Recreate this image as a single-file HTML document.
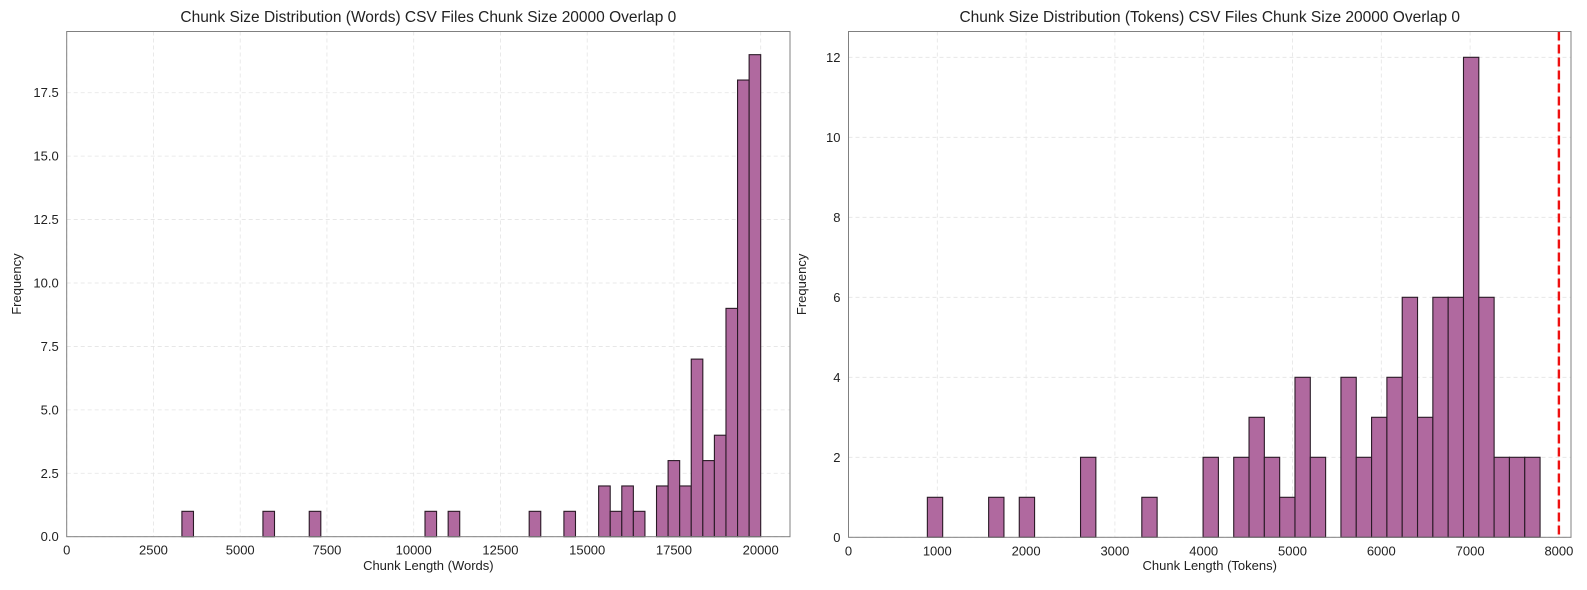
<!DOCTYPE html>
<html><head><meta charset="utf-8"><style>
body{margin:0;background:#fff;}
svg{display:block;font-family:"Liberation Sans",sans-serif;}
</style></head><body>
<svg id="chart" width="1587" height="590" viewBox="0 0 1587 590"></svg>
<script>
// Left chart data (words): 50 bins
const wordsBinStart = 3320;
const wordsBinWidth = 333.6;
const wordsCounts = [1,0,0,0,0,0,0,1,0,0,0,1,0,0,0,0,0,0,0,0,0,1,0,1,0,0,0,0,0,0,1,0,0,1,0,0,2,1,2,1,0,2,3,2,7,3,4,9,18,19];
const wordsXTicks = [0,2500,5000,7500,10000,12500,15000,17500,20000];
const wordsYTicks = [0,2.5,5,7.5,10,12.5,15,17.5];
const wordsYLabels = ["0.0","2.5","5.0","7.5","10.0","12.5","15.0","17.5"];
// Right chart data (tokens): 40 bins
const tokBinStart = 888;
const tokBinWidth = 172.5;
const tokCounts = [1,0,0,0,1,0,1,0,0,0,2,0,0,0,1,0,0,0,2,0,2,3,2,1,4,2,0,4,2,3,4,6,3,6,6,12,6,2,2,2];
const tokXTicks = [0,1000,2000,3000,4000,5000,6000,7000,8000];
const tokYTicks = [0,2,4,6,8,10,12];
const tokLimit = 8000;

const svg = document.getElementById('chart');
const NS = 'http://www.w3.org/2000/svg';
function mk(tag, attrs, parent){const e=document.createElementNS(NS,tag);for(const k in attrs)e.setAttribute(k,attrs[k]);(parent||svg).appendChild(e);return e;}

function panel(cfg){
  const g = mk('g',{});
  
  
  const xs = v => cfg.x0 + v*cfg.kx;
  const ys = v => cfg.y0 - v*cfg.ky;
  cfg.xTicks.forEach(t=>{
    const l = mk('line',{x1:xs(t),x2:xs(t),y1:cfg.top,y2:cfg.y0,stroke:'#e4e4e4','stroke-dasharray':'4,3','stroke-width':0.8},g);
    
    
  });
  cfg.yTicks.forEach(t=>{
    const l = mk('line',{x1:cfg.x0,x2:cfg.right,y1:ys(t),y2:ys(t),stroke:'#e4e4e4','stroke-dasharray':'4,3','stroke-width':0.8},g);
    
    
  });
  cfg.counts.forEach((c,i)=>{
    if(!c) return;
    const a = cfg.start + i*cfg.w;
    const r = mk('rect',{x:xs(a),y:ys(c),width:cfg.w*cfg.kx,height:c*cfg.ky,fill:'#b0699f','stroke':'#2a1a26','stroke-width':1.1},g);
    
    
  });
  if(cfg.limit!==undefined){
    const l = mk('line',{x1:xs(cfg.limit),x2:xs(cfg.limit),y1:cfg.top,y2:cfg.y0,stroke:'#ee1111','stroke-width':2.4,'stroke-dasharray':'9,4'},g);
    
    
  }
  const f = mk('rect',{x:cfg.x0,y:cfg.top,width:cfg.right-cfg.x0,height:cfg.y0-cfg.top,fill:'none',stroke:'#808080','stroke-width':1},g);
  
  
  cfg.xTicks.forEach(t=>{
    const tx = mk('text',{x:xs(t),y:cfg.y0+18,'text-anchor':'middle','font-size':13,fill:'#222'},g);
    tx.textContent = t;
    
    
  });
  cfg.yTicks.forEach((t,i)=>{
    const tx = mk('text',{x:cfg.x0-8,y:ys(t)+4.5,'text-anchor':'end','font-size':13,fill:'#222'},g);
    tx.textContent = cfg.yLabels ? cfg.yLabels[i] : t;
    
    
  });
  const xt = mk('text',{x:(cfg.x0+cfg.right)/2,y:570,'text-anchor':'middle','font-size':13,fill:'#222'},g);
  xt.textContent = cfg.xTitle;
  
  
  const yt = mk('text',{x:0,y:0,'text-anchor':'middle','font-size':13,fill:'#222',transform:`translate(${cfg.yTitleX},${(cfg.top+cfg.y0)/2}) rotate(-90)`},g);
  yt.textContent = 'Frequency';
  
  
  const tt = mk('text',{x:(cfg.x0+cfg.right)/2,y:22,'text-anchor':'middle','font-size':15.5,fill:'#222'},g);
  tt.textContent = cfg.title;
  
  
}

panel({name:'words-histogram',x0:66.7,right:790,top:31.5,y0:536.7,kx:0.0347,ky:25.37,
  xTicks:wordsXTicks,yTicks:wordsYTicks,yLabels:wordsYLabels,counts:wordsCounts,start:wordsBinStart,w:wordsBinWidth,
  xTitle:'Chunk Length (Words)',yTitleX:21,title:'Chunk Size Distribution (Words) CSV Files Chunk Size 20000 Overlap 0'});
panel({name:'tokens-histogram',x0:848.5,right:1571,top:31.5,y0:537.3,kx:0.0888,ky:40,
  xTicks:tokXTicks,yTicks:tokYTicks,counts:tokCounts,start:tokBinStart,w:tokBinWidth,limit:tokLimit,
  xTitle:'Chunk Length (Tokens)',yTitleX:806,title:'Chunk Size Distribution (Tokens) CSV Files Chunk Size 20000 Overlap 0'});
</script>
</body></html>
